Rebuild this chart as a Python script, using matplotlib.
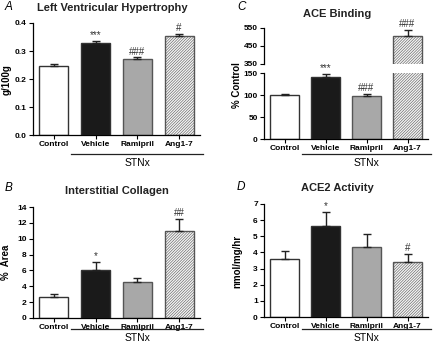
import matplotlib
matplotlib.use('Agg')
import matplotlib.pyplot as plt
from matplotlib.transforms import blended_transform_factory

plt.rcParams['font.family'] = 'Liberation Sans'
plt.rcParams['hatch.linewidth'] = 0.4
plt.rcParams['hatch.color'] = '#8a8a8a'

groups = ['Control', 'Vehicle', 'Ramipril', 'Ang1-7']

lvh = [0.248, 0.330, 0.273, 0.355]
lvh_err = [0.004, 0.005, 0.004, 0.005]
lvh_sig = ['', '***', '###', '#']

collagen = [2.7, 6.1, 4.5, 11.0]
collagen_err = [0.3, 1.0, 0.6, 1.5]
collagen_sig = ['', '*', '', '##']

ace = [100, 140, 98, 508]
ace_err = [3, 7, 4, 33]
ace_sig = ['', '***', '###', '###']

ace2 = [3.6, 5.65, 4.35, 3.42]
ace2_err = [0.5, 0.85, 0.8, 0.5]
ace2_sig = ['', '*', '', '#']

faces = ['white', '#1a1a1a', '#a8a8a8', '#f4f4f4']
edges = ['#333333', '#333333', '#555555', '#555555']
hatches = [None, None, None, '////////////']

fig = plt.figure(figsize=(4.33, 3.5), dpi=100)
W, H = 433, 350


def box(l, t, r, b):
    return [l / W, 1 - b / H, (r - l) / W, (b - t) / H]


def draw_bars(ax, vals, errs, sig=None, gap=0.0):
    x = range(len(groups))
    for i in x:
        ax.bar(i, vals[i], width=0.7, color=faces[i], edgecolor=edges[i],
               hatch=hatches[i], linewidth=1.0, zorder=2)
        ax.errorbar(i, vals[i], yerr=[[0], [errs[i]]], fmt='none', ecolor='#222222',
                    elinewidth=1.0, capsize=3, capthick=1.0, zorder=3)
        if sig and sig[i]:
            ax.text(i, vals[i] + errs[i] + gap, sig[i], ha='center', va='bottom',
                    fontsize=7, color='#333333', clip_on=False)
    ax.set_xlim(-0.5, 3.5)
    for s in ['top', 'right']:
        ax.spines[s].set_visible(False)
    for s in ['left', 'bottom']:
        ax.spines[s].set_linewidth(0.9)
    ax.tick_params(axis='both', labelsize=6, length=3, width=0.8, pad=1.5)


def xlabels(ax, line_y, text_y):
    ax.set_xticks(range(len(groups)))
    ax.set_xticklabels(groups, fontsize=6, fontweight='bold')
    tr = blended_transform_factory(ax.transData, fig.transFigure)
    ax.plot([0.42, 3.58], [line_y, line_y], color='#222222', lw=0.9,
            transform=tr, clip_on=False)
    ax.text(2.0, text_y, 'STNx', transform=tr, ha='center', va='center', fontsize=7.5)


def ylab(x, y, s):
    fig.text(x / W, 1 - y / H, s, rotation=90, ha='center', va='center',
             fontsize=7, fontweight='bold')


# Panel A
axA = fig.add_axes(box(33, 23, 200, 135))
draw_bars(axA, lvh, lvh_err, lvh_sig, gap=0.003)
axA.set_ylim(0, 0.4)
axA.set_yticks([0.0, 0.1, 0.2, 0.3, 0.4])
axA.set_yticklabels(['0.0', '0.1', '0.2', '0.3', '0.4'], fontweight='bold')
ylab(7, 80, 'g/100g')
xlabels(axA, 1 - 154 / H, 1 - 163 / H)
fig.text(112 / W, 1 - 8 / H, 'Left Ventricular Hypertrophy', ha='center', va='center',
         fontsize=8, fontweight='bold', color='#222222')
fig.text(5 / W, 1 - 7 / H, 'A', fontsize=8.5, style='italic', va='center')

# Panel B
axB = fig.add_axes(box(33, 207, 200, 318))
draw_bars(axB, collagen, collagen_err, collagen_sig, gap=0.1)
axB.set_ylim(0, 14)
axB.set_yticks(range(0, 15, 2))
axB.set_yticklabels([str(v) for v in range(0, 15, 2)], fontweight='bold')
ylab(6, 262, '%  Area')
xlabels(axB, 1 - 329 / H, 1 - 338 / H)
fig.text(117 / W, 1 - 191 / H, 'Interstitial Collagen', ha='center', va='center',
         fontsize=8, fontweight='bold', color='#222222')
fig.text(5 / W, 1 - 188 / H, 'B', fontsize=8.5, style='italic', va='center')

# Panel C (broken axis)
axC = fig.add_axes(box(264, 73, 428, 139))
axC2 = fig.add_axes(box(264, 28, 428, 64))
draw_bars(axC, ace, ace_err, ace_sig[:3] + [''], gap=3)
axC.set_ylim(0, 150)
axC.set_yticks([0, 50, 100, 150])
axC.set_yticklabels(['0', '50', '100', '150'], fontweight='bold')
xlabels(axC, 1 - 154 / H, 1 - 163 / H)
draw_bars(axC2, ace, ace_err, ['', '', '', ace_sig[3]], gap=4)
axC2.set_ylim(350, 550)
axC2.set_yticks([350, 450, 550])
axC2.set_yticklabels(['350', '450', '550'], fontweight='bold')
axC2.spines['bottom'].set_visible(False)
axC2.set_xticks([])
ylab(237, 85, '% Control')
fig.text(337 / W, 1 - 14 / H, 'ACE Binding', ha='center', va='center',
         fontsize=8, fontweight='bold', color='#222222')
fig.text(237 / W, 1 - 7 / H, 'C', fontsize=8.5, style='italic', va='center')

# Panel D
axD = fig.add_axes(box(264, 204, 428, 317))
draw_bars(axD, ace2, ace2_err, ace2_sig, gap=0.05)
axD.set_ylim(0, 7)
axD.set_yticks(range(0, 8))
axD.set_yticklabels([str(v) for v in range(0, 8)], fontweight='bold')
ylab(237, 261, 'nmol/mg/hr')
xlabels(axD, 1 - 329 / H, 1 - 338 / H)
fig.text(337 / W, 1 - 188 / H, 'ACE2 Activity', ha='center', va='center',
         fontsize=8, fontweight='bold', color='#222222')
fig.text(237 / W, 1 - 187 / H, 'D', fontsize=8.5, style='italic', va='center')

fig.savefig('out.png', dpi=100)
